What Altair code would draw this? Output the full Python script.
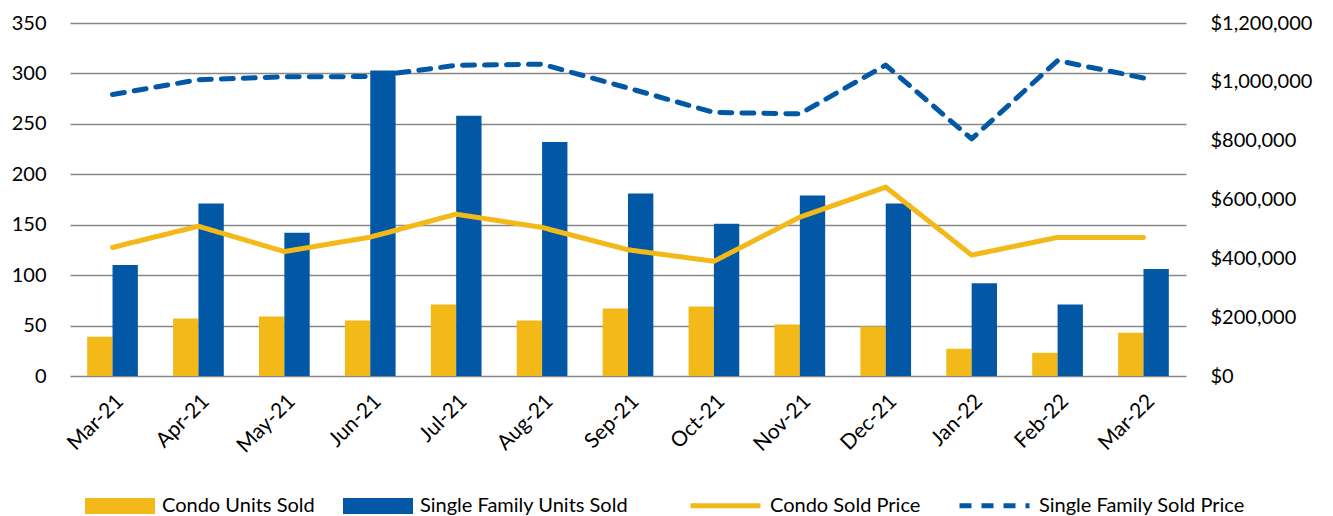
import altair as alt
import pandas as pd

months = ["Mar-21", "Apr-21", "May-21", "Jun-21", "Jul-21", "Aug-21", "Sep-21",
          "Oct-21", "Nov-21", "Dec-21", "Jan-22", "Feb-22", "Mar-22"]
condo_units = [39, 57, 59, 55, 71, 55, 67, 69, 51, 49, 27, 23, 43]
sf_units = [110, 171, 142, 303, 258, 232, 181, 151, 179, 171, 92, 71, 106]
condo_price = [437000, 509000, 423000, 472000, 550000, 505000, 429000,
               390000, 540000, 642000, 411000, 471000, 471000]
sf_price = [957000, 1007000, 1017000, 1018000, 1056000, 1060000, 979000,
            896000, 891000, 1057000, 806000, 1072000, 1013000]
left_ticks = [0, 50, 100, 150, 200, 250, 300, 350]
right_ticks = [0, 200000, 400000, 600000, 800000, 1000000, 1200000]

bar_series = ["Condo Units Sold", "Single Family Units Sold"]
line_series = ["Condo Sold Price", "Single Family Sold Price"]

GOLD = "#F3B918"
BLUE = "#0258A5"
FONT = "Lato"

bars_df = pd.DataFrame({
    "month": months * 2,
    "series": [bar_series[0]] * len(months) + [bar_series[1]] * len(months),
    "units": condo_units + sf_units,
})
lines_df = pd.DataFrame({
    "month": months * 2,
    "series": [line_series[0]] * len(months) + [line_series[1]] * len(months),
    "price": condo_price + sf_price,
})

x_enc = alt.X(
    "month:N", sort=months, title=None,
    scale=alt.Scale(paddingInner=0.41, paddingOuter=0.2),
    axis=alt.Axis(labelAngle=-45, labelFontSize=21, labelFont=FONT, labelColor="#000000",
                  ticks=False, domain=False, grid=False, labelPadding=14),
)

legend_common = dict(
    orient="none", direction="horizontal", title=None,
    labelFontSize=20, labelFont=FONT, labelColor="#000000", labelLimit=400,
    labelOffset=7, columnPadding=28,
)

bars = alt.Chart(bars_df).mark_bar().encode(
    x=x_enc,
    xOffset=alt.XOffset("series:N", sort=bar_series,
                        scale=alt.Scale(domain=bar_series, paddingInner=0, paddingOuter=0)),
    y=alt.Y("units:Q", title=None, scale=alt.Scale(domain=[0, 350]),
            axis=alt.Axis(orient="left", values=left_ticks, ticks=False, domain=False,
                          grid=True, gridColor="#888888", gridWidth=1.4,
                          labelFontSize=20, labelFont=FONT, labelColor="#000000",
                          labelPadding=24)),
    fill=alt.Fill("series:N", sort=bar_series,
                  scale=alt.Scale(domain=bar_series, range=[GOLD, BLUE]),
                  legend=alt.Legend(legendX=15, legendY=448,
                                    symbolType="M-1,-0.23H1V0.23H-1Z",
                                    symbolSize=4900, symbolStrokeWidth=0,
                                    symbolOpacity=1,
                                    **legend_common)),
)

line_legend = alt.Legend(legendX=618, legendY=445, symbolType="stroke", symbolSize=4900,
                         symbolStrokeWidth=5, **legend_common)

lines = alt.Chart(lines_df).mark_line(strokeWidth=5, strokeCap="round", strokeJoin="round").encode(
    x=x_enc,
    y=alt.Y("price:Q", title=None, scale=alt.Scale(domain=[0, 1200000]),
            axis=alt.Axis(orient="right", values=right_ticks, format="$,.0f",
                          ticks=False, domain=False, grid=False,
                          labelFontSize=20, labelFont=FONT, labelColor="#000000",
                          labelPadding=24)),
    stroke=alt.Stroke("series:N", sort=line_series,
                      scale=alt.Scale(domain=line_series, range=[GOLD, BLUE]),
                      legend=line_legend),
    strokeDash=alt.StrokeDash("series:N", sort=line_series,
                              scale=alt.Scale(domain=line_series, range=[[1, 0], [12, 10]]),
                              legend=line_legend),
)

chart = alt.layer(bars, lines).resolve_scale(
    y="independent"
).properties(
    width=1116, height=353,
    padding={"left": 62, "top": 15, "right": 139, "bottom": 140},
    autosize=alt.AutoSizeParams(type="none"),
    background="white",
).configure_view(stroke=None)

chart.save("out.html", embed_options={"renderer": "svg", "actions": False})
